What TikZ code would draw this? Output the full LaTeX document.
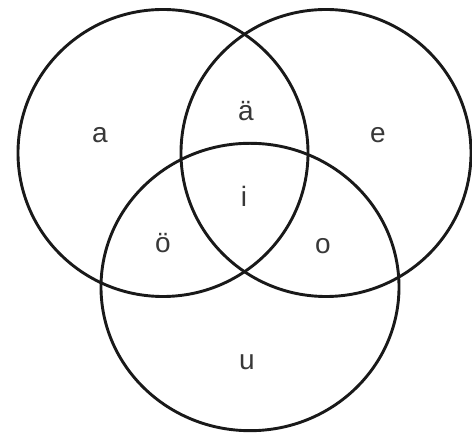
\documentclass[tikz,border=0pt]{standalone}
\usepackage{fontspec}
\setmainfont{Liberation Sans}
\begin{document}
\begin{tikzpicture}[x=1pt,y=-1pt,
  ring/.style={draw=black!90,line width=2.9pt},
  lab/.style={font=\fontsize{28}{32}\selectfont,text=black!78,inner sep=0pt}]
\useasboundingbox (0,0) rectangle (472,435);
\draw[ring] (163,153) ellipse [x radius=145, y radius=143.5];
\draw[ring] (326,153) ellipse [x radius=145, y radius=143.5];
\draw[ring] (250,287) ellipse [x radius=149, y radius=143.7];
\node[lab] (a) at (100,135) {a};
\node[lab] (ae) at (246,111) {ä};
\node[lab] (e) at (378,135) {e};
\node[lab] (i) at (244,196) {i};
\node[lab] (oe) at (163,243) {ö};
\node[lab] (o) at (323,246) {o};
\node[lab] (u) at (247,362) {u};
\end{tikzpicture}
\end{document}
